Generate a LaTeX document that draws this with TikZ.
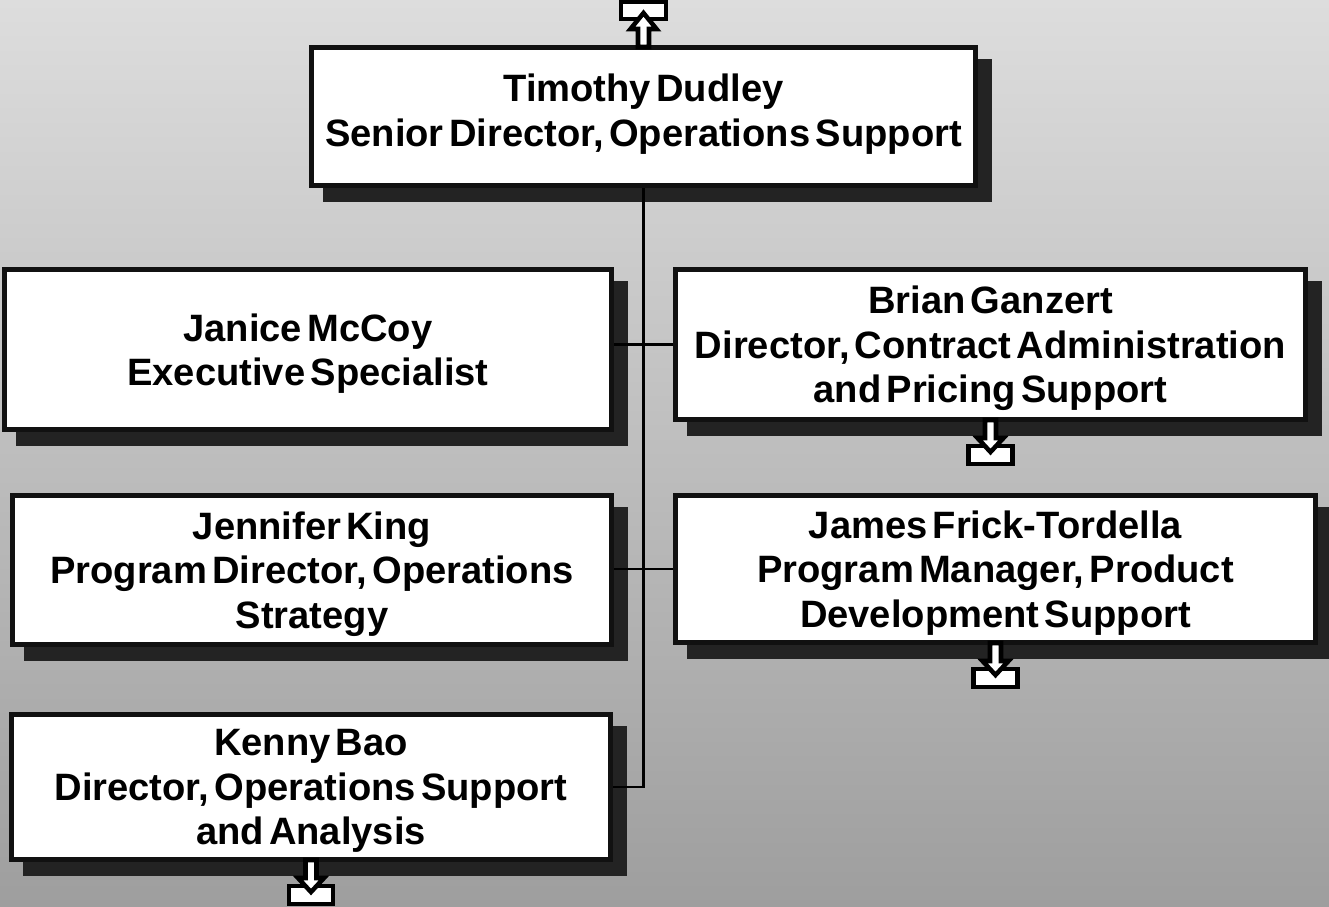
\documentclass[tikz,border=0pt]{standalone}
\usepackage{fontspec}
\setmainfont{Liberation Sans}[WordSpace={0.5}]
\pgfdeclarelayer{back}
\pgfdeclarelayer{shadowlayer}
\pgfsetlayers{back,shadowlayer,main}
\definecolor{bgtop}{RGB}{221,221,221}
\definecolor{bgbot}{RGB}{158,158,158}
\definecolor{shadowc}{RGB}{35,35,35}
\definecolor{boxline}{RGB}{17,17,17}
\begin{document}
\begin{tikzpicture}[x=0.75pt,y=-0.75pt,
  pbox/.style={draw=boxline, fill=white, line width=3.75pt, inner sep=0pt,
    align=center, font=\fontsize{28.6}{33.4}\selectfont\bfseries},
  ptext/.style={inner sep=0pt, align=center, yshift=-3pt,
    font=\fontsize{28.6}{33.4}\selectfont\bfseries},
  conn/.style={draw=black, line width=1.9pt},
  iconrect/.style={draw=black, fill=white, line width=3.4pt, line join=miter},
  iconarrow/.style={draw=black, fill=white, line width=3.4pt, line join=miter},
  downicon/.pic={
    \draw[iconrect] (-22,24) rectangle (22,42);
    \draw[iconarrow] (-5.5,-2) -- (-5.5,16) -- (-13,16) -- (0,30) -- (13,16) -- (5.5,16) -- (5.5,-2) -- cycle;
  },
  upicon/.pic={
    \draw[iconrect] (-22.5,-43) rectangle (22.5,-26);
    \draw[iconarrow] (-5.5,2) -- (-5.5,-16) -- (-13,-16) -- (0,-32) -- (13,-16) -- (5.5,-16) -- (5.5,2) -- cycle;
  }
]
\useasboundingbox (0,0) rectangle (1329,907);
\begin{pgfonlayer}{back}
  \shade[top color=bgtop, bottom color=bgbot] (0,0) rectangle (1329,907);
\end{pgfonlayer}

\node[pbox, minimum width=498pt, minimum height=103.5pt] (t) at (643.5,116.5)
  {Timothy Dudley\\Senior Director, Operations Support\\[-24pt]};
\node[pbox, minimum width=455.25pt, minimum height=120pt,
  label={[ptext, name=jmt]center:{Janice McCoy\\Executive Specialist}}] (jm) at (308,349.5) {};
\node[pbox, minimum width=472.5pt, minimum height=112.5pt,
  label={[ptext, name=bgt]center:{Brian Ganzert\\Director, Contract Administration\\and Pricing Support}}] (bg) at (990.5,344.5) {};
\node[pbox, minimum width=449.25pt, minimum height=111.75pt,
  label={[ptext, name=jkt]center:{Jennifer King\\Program Director, Operations\\Strategy}}] (jk) at (312,570) {};
\node[pbox, minimum width=480pt, minimum height=110.25pt,
  label={[ptext, name=jft]center:{James Frick-Tordella\\Program Manager, Product\\Development Support}}] (jf) at (995.5,569) {};
\node[pbox, minimum width=449.25pt, minimum height=108.75pt,
  label={[ptext, name=kbt]center:{Kenny Bao\\Director, Operations Support\\and Analysis}}] (kb) at (311,787) {};

\begin{pgfonlayer}{shadowlayer}
  \foreach \n in {t,jm,bg,jk,jf,kb}
    \fill[shadowc] ([shift={(14,14)}]\n.north west) rectangle ([shift={(14,14)}]\n.south east);
\end{pgfonlayer}

\draw[conn] (t.south) |- (kb.east);
\draw[conn] (bg.west) -- (bg.west -| jm.east);
\draw[conn] (jf.west) -- (jf.west -| jk.east);

\pic at (t.north) {upicon};
\pic at (bg.south) {downicon};
\pic at (jf.south) {downicon};
\pic at (kb.south) {downicon};
\end{tikzpicture}
\end{document}
